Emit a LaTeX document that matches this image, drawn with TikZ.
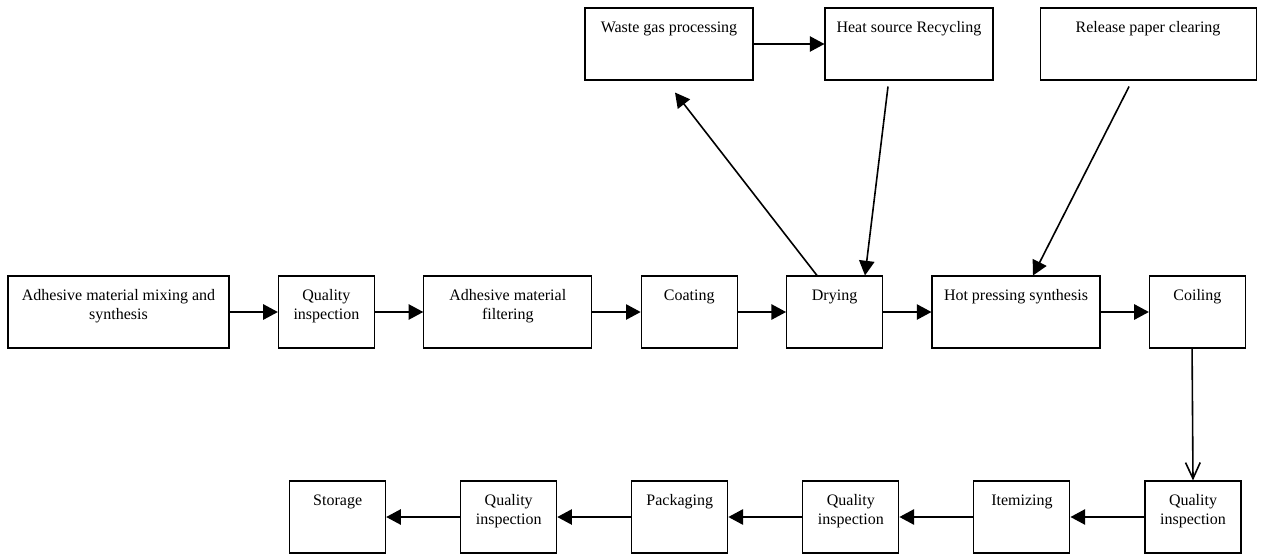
\documentclass[tikz,border=0pt]{standalone}
\usepackage{fontspec}
\setmainfont{Liberation Serif}
\usepackage{tikz}
\usetikzlibrary{arrows.meta, positioning}
\tikzstyle{chart}=[x=0.75pt, y=-0.75pt, node distance=36.25pt, >={Triangle[length=11pt,width=11.5pt]}]
\tikzstyle{stage}=[draw, line width=0.8pt, inner xsep=6pt, inner ysep=0pt, font=\fontsize{12}{13.8}\selectfont]
\tikzstyle{flow}=[line width=1.2pt]
\newcommand{\stagetext}[2]{\parbox[c][54pt][t]{#1}{\centering\vspace*{9pt}\strut #2}}

\begin{document}
\begin{tikzpicture}[chart]
  \useasboundingbox (0,0) rectangle (1261,554);
  \node[stage] (mix) at (118.5,312) {\stagetext{153.75pt}{Adhesive material mixing and synthesis}};
  \node[stage] (qi1) [right=of mix] {\stagetext{60pt}{Quality inspection}};
  \node[stage] (filter) [right=of qi1] {\stagetext{114pt}{Adhesive material filtering}};
  \node[stage] (coat) [right=of filter] {\stagetext{60pt}{Coating}};
  \node[stage] (dry) [right=of coat] {\stagetext{60pt}{Drying}};
  \node[stage] (hot) [right=of dry] {\stagetext{114pt}{Hot pressing synthesis}};
  \node[stage] (coil) [right=of hot] {\stagetext{60pt}{Coiling}};
  \node[stage] (waste) at (669,44) {\stagetext{114pt}{Waste gas processing}};
  \node[stage] (heat) [right=53.2pt of waste] {\stagetext{114pt}{Heat source Recycling}};
  \node[stage] (release) [right=34.5pt of heat] {\stagetext{150pt}{Release paper clearing}};
  \node[stage] (qi2) at (1193,517) {\stagetext{60pt}{Quality inspection}};
  \node[stage] (item) [left=55.5pt of qi2] {\stagetext{60pt}{Itemizing}};
  \node[stage] (qi3) [left=55.5pt of item] {\stagetext{60pt}{Quality inspection}};
  \node[stage] (pack) [left=55.5pt of qi3] {\stagetext{60pt}{Packaging}};
  \node[stage] (qi4) [left=55.5pt of pack] {\stagetext{60pt}{Quality inspection}};
  \node[stage] (store) [left=55.5pt of qi4] {\stagetext{60pt}{Storage}};
  \path[->, flow] (mix) edge (qi1);
  \path[->, flow] (qi1) edge (filter);
  \path[->, flow] (filter) edge (coat);
  \path[->, flow] (coat) edge (dry);
  \path[->, flow] (dry) edge (hot);
  \path[->, flow] (hot) edge (coil);
  \path[->, flow] (waste) edge (heat);
  \path[->, flow] ([xshift=-13.2pt]dry.north) edge ([xshift=4.5pt,yshift=-9pt]waste.south);
  \path[->, flow] ([xshift=-15.75pt,yshift=-4.5pt]heat.south) edge ([xshift=22.8pt]dry.north);
  \path[->, flow] ([xshift=-14.25pt,yshift=-4.5pt]release.south) edge ([xshift=12.75pt]hot.north);
  \path[-{Straight Barb[length=12pt,width=11pt]}, flow] ([xshift=-4pt]coil.south) edge (qi2.north);
  \path[->, flow] (qi2) edge (item);
  \path[->, flow] (item) edge (qi3);
  \path[->, flow] (qi3) edge (pack);
  \path[->, flow] (pack) edge (qi4);
  \path[->, flow] (qi4) edge (store);
\end{tikzpicture}
\end{document}
